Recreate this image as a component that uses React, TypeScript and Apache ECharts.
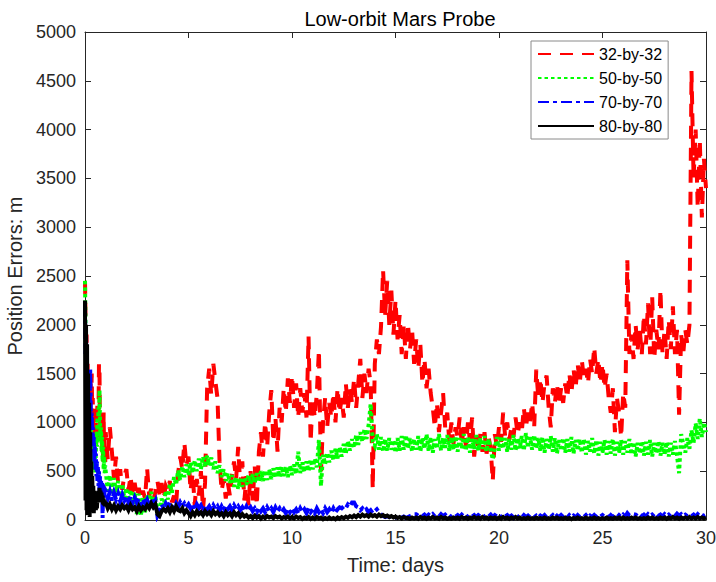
import React, { useEffect, useRef } from "react";
import * as echarts from "echarts";

const seriesNames = ["32-by-32", "50-by-50", "70-by-70", "80-by-80"];
const xTicks = [0, 5, 10, 15, 20, 25, 30];

// sample times: day 0..0.975 every 0.025, then day 1..30 every 0.1
const earlyTimes = Array.from({ length: 40 }, (_, i) => i * 0.025);
const mainTimes = Array.from({ length: 291 }, (_, j) => Math.round((1 + j * 0.1) * 10) / 10);
const times = [...earlyTimes, ...mainTimes];

// ---- 32-by-32 (red) ----
const red32Early = [
  2450, 2100, 1700, 1900, 1400, 1600, 1200, 1500, 1100, 1300,
  1000, 1400, 1200, 1500, 1050, 1250, 900, 1150, 850, 1100,
  800, 1000, 750, 950, 1200, 850, 1050, 1600, 1550, 900,
  1100, 800, 1000, 700, 900, 600, 1100, 650, 850, 550,
];
const red32Main = [
  900, 620, 950, 700, 420, 650, 380, 520, 310, 460,
  520, 300, 450, 260, 380, 240, 330, 210, 300, 220,
  530, 250, 320, 200, 290, 400, 260, 380, 220, 350,
  300, 400, 180, 250, 150, 480, 650, 520, 790, 560,
  650, 300, 480, 150, 420, 250, 500, 100, 380, 1350,
  1550, 1280, 1600, 1420, 1250, 600, 300, 420, 220, 380,
  250, 460, 600, 420, 750, 350, 600, 200, 450, 150,
  500, 200, 550, 150, 700, 900, 650, 1000, 750, 1100,
  1330, 800, 1050, 700, 1150, 1000, 1350, 1100, 1450, 1200,
  1480, 1150, 1400, 1050, 1350, 1100, 1300, 1050, 1880, 800,
  1250, 1050, 1300, 1740, 500, 1000, 1250, 950, 1200, 1050,
  1300, 1000, 1350, 1100, 1250, 1050, 1400, 1150, 1350, 1200,
  1450, 1150, 1400, 1650, 1250, 1500, 1300, 1550, 1400, 320,
  1600, 1850, 1700, 1980, 2560, 2100, 2450, 2000, 2350, 1900,
  2250, 1850, 2100, 1700, 2000, 1650, 2010, 1750, 1950, 1600,
  1850, 1550, 1800, 1400, 1650, 1350, 1550, 1300, 1150, 950,
  1200, 900, 1100, 1300, 950, 1100, 800, 1000, 780, 950,
  850, 1050, 780, 950, 750, 1000, 800, 1050, 650, 850,
  720, 880, 700, 900, 680, 850, 720, 400, 880, 750,
  950, 800, 1100, 850, 1000, 820, 950, 850, 1050, 880,
  1000, 900, 1150, 950, 1100, 1000, 1200, 950, 1540, 1250,
  1450, 1200, 1400, 1480, 1150, 950, 1350, 1200, 1400, 1180,
  1350, 1200, 1400, 1250, 1500, 1300, 1550, 1350, 1600, 1400,
  1640, 1450, 1550, 1400, 1650, 1500, 1770, 1500, 1650, 1400,
  1600, 1350, 1500, 1250, 1100, 1350, 900, 1250, 1100, 850,
  1300, 1150, 2660, 1700, 1900, 1650, 2000, 1750, 1950, 1700,
  2100, 1800, 2220, 1700, 2290, 1650, 1950, 1750, 2360, 1700,
  1950, 1650, 2050, 1750, 2190, 1700, 1950, 1080, 1900, 1700,
  1950, 1800, 2000, 4600, 3500, 4000, 3200, 3900, 3100, 3700, 3400,
];

// ---- 50-by-50 (green) ----
const green50Early = [
  2450, 2000, 1600, 1800, 1300, 1500, 1100, 1300, 950, 1100,
  800, 950, 700, 850, 600, 750, 550, 700, 500, 650,
  480, 700, 900, 750, 1050, 850, 1150, 950, 1330, 1000,
  800, 950, 700, 850, 600, 750, 520, 650, 480, 560,
];
const green50Main = [
  500, 300, 460, 260, 430, 280, 400, 240, 370, 220,
  330, 190, 310, 170, 290, 60, 270, 40, 240, 80,
  260, 170, 290, 150, 250, 60, 90, 220, 140, 300,
  210, 370, 280, 440, 360, 510, 410, 550, 440, 570,
  460, 590, 480, 610, 500, 630, 520, 650, 540, 660,
  560, 640, 520, 600, 480, 560, 440, 520, 400, 480,
  380, 460, 340, 440, 320, 420, 340, 440, 360, 460,
  370, 470, 380, 480, 390, 500, 400, 510, 410, 520,
  420, 530, 430, 540, 440, 550, 450, 540, 440, 560,
  460, 570, 470, 700, 480, 590, 490, 600, 500, 620,
  520, 630, 540, 820, 350, 670, 570, 690, 590, 710,
  610, 730, 630, 750, 650, 780, 680, 810, 710, 830,
  740, 870, 770, 900, 800, 930, 830, 970, 1190, 800,
  760, 880, 720, 850, 700, 830, 710, 840, 720, 820,
  690, 840, 710, 860, 720, 870, 730, 840, 700, 830,
  720, 860, 700, 840, 730, 880, 710, 850, 690, 830,
  730, 880, 710, 840, 740, 870, 710, 850, 720, 860,
  700, 840, 730, 880, 710, 850, 690, 830, 730, 870,
  710, 840, 730, 860, 700, 830, 720, 620, 740, 850,
  710, 860, 730, 840, 700, 830, 720, 870, 710, 840,
  730, 860, 710, 890, 740, 850, 720, 870, 730, 840,
  710, 850, 690, 830, 720, 860, 700, 840, 680, 820,
  710, 840, 690, 830, 700, 850, 680, 820, 710, 830,
  690, 830, 670, 810, 700, 840, 680, 820, 660, 800,
  690, 820, 670, 810, 680, 830, 660, 800, 690, 820,
  670, 810, 690, 830, 670, 800, 650, 790, 680, 810,
  660, 800, 670, 820, 650, 790, 680, 810, 660, 790,
  670, 800, 650, 790, 670, 810, 660, 480, 880, 780,
  690, 840, 730, 920, 790, 990, 830, 1040, 850, 1000, 900,
];

// ---- 70-by-70 (blue) ----
const blue70Early = [
  2200, 1700, 1900, 1300, 1600, 1100, 1400, 900, 1300, 1000,
  1550, 1200, 950, 1100, 800, 950, 700, 850, 600, 750,
  520, 680, 450, 600, 400, 550, 350, 500, 300, 450,
  280, 400, 260, 380, 20, 350, 240, 330, 230, 310,
];
const blue70Main = [
  300, 220, 290, 200, 280, 210, 270, 190, 260, 200,
  250, 180, 240, 170, 230, 180, 220, 160, 210, 170,
  210, 150, 220, 160, 200, 40, 80, 160, 120, 170,
  130, 180, 140, 120, 170, 130, 180, 140, 170, 130,
  160, 120, 170, 110, 160, 120, 150, 100, 150, 110,
  140, 100, 150, 110, 140, 90, 140, 100, 150, 110,
  140, 100, 150, 110, 140, 100, 130, 90, 140, 100,
  130, 90, 120, 80, 130, 90, 120, 80, 130, 90,
  120, 80, 130, 90, 120, 80, 110, 70, 120, 80,
  120, 80, 110, 70, 120, 80, 110, 70, 120, 80,
  110, 70, 120, 80, 110, 70, 120, 80, 110, 70,
  120, 80, 110, 130, 120, 140, 120, 160, 140, 180,
  180, 140, 130, 100, 120, 90, 110, 80, 100, 70,
  90, 110, 80, 60, 40, 30, 40, 30, 40, 30,
  30, 20, 30, 25, 35, 20, 30, 40, 50, 60,
  60, 45, 60, 40, 55, 35, 55, 40, 60, 35,
  55, 35, 60, 40, 55, 35, 50, 30, 55, 35,
  50, 30, 55, 35, 50, 30, 55, 35, 50, 30,
  50, 35, 55, 30, 50, 35, 55, 30, 50, 35,
  50, 30, 55, 35, 50, 30, 45, 25, 50, 30,
  45, 25, 50, 30, 45, 25, 50, 30, 45, 25,
  45, 30, 50, 25, 45, 30, 50, 25, 45, 30,
  50, 30, 45, 25, 50, 30, 45, 25, 50, 30,
  45, 30, 50, 25, 45, 30, 50, 30, 55, 35,
  50, 30, 45, 25, 50, 30, 45, 25, 50, 30,
  55, 35, 70, 45, 50, 60, 55, 40, 60, 40,
  55, 35, 60, 40, 55, 35, 60, 40, 55, 35,
  60, 40, 55, 35, 60, 40, 65, 45, 60, 40,
  55, 40, 60, 40, 55, 35, 60, 40, 55, 40, 50,
];

// ---- 80-by-80 (black) ----
const black80Early = [
  2250, 200, 2000, 100, 1800, 50, 1500, 80, 1200, 30,
  900, 100, 600, 80, 450, 120, 350, 70, 300, 150,
  250, 100, 280, 120, 220, 180, 300, 200, 330, 250,
  300, 200, 280, 180, 250, 160, 220, 150, 200, 140,
];
const black80Main = [
  180, 120, 160, 110, 150, 100, 140, 110, 150, 120,
  140, 100, 150, 110, 130, 90, 140, 100, 130, 110,
  150, 120, 170, 130, 160, 60, 40, 90, 110, 90,
  120, 80, 130, 90, 140, 100, 90, 120, 70, 100,
  70, 40, 80, 50, 90, 60, 80, 50, 90, 60,
  80, 50, 90, 60, 80, 50, 70, 40, 80, 50,
  70, 40, 80, 50, 70, 35, 60, 35, 50, 25,
  40, 20, 45, 25, 40, 15, 35, 20, 40, 25,
  35, 20, 40, 25, 35, 15, 30, 20, 35, 15,
  30, 15, 35, 20, 30, 10, 25, 15, 30, 10,
  25, 10, 30, 15, 25, 8, 20, 10, 25, 10,
  20, 8, 25, 12, 30, 18, 35, 22, 40, 28,
  45, 30, 50, 35, 55, 40, 50, 35, 55, 40,
  50, 35, 55, 40, 50, 35, 45, 30, 40, 25,
  35, 20, 30, 15, 30, 20, 20, 12, 25, 15,
  25, 12, 30, 15, 25, 12, 25, 15, 30, 15,
  25, 12, 30, 15, 25, 12, 20, 12, 25, 15,
  25, 12, 30, 15, 25, 12, 25, 15, 30, 15,
  25, 12, 30, 15, 25, 12, 25, 15, 25, 12,
  25, 12, 30, 15, 25, 12, 25, 15, 30, 15,
  25, 12, 20, 12, 25, 12, 20, 12, 25, 15,
  20, 12, 25, 12, 20, 12, 25, 15, 25, 12,
  20, 12, 25, 12, 20, 8, 20, 12, 25, 12,
  20, 12, 25, 12, 20, 12, 25, 12, 20, 12,
  20, 12, 25, 12, 20, 12, 25, 15, 25, 12,
  25, 12, 20, 12, 25, 15, 25, 12, 20, 12,
  20, 12, 25, 15, 25, 12, 20, 12, 25, 15,
  25, 12, 25, 15, 30, 15, 25, 12, 25, 15,
  25, 15, 30, 15, 25, 15, 30, 15, 25, 15, 25,
];

const seriesValues = [
  [...red32Early, ...red32Main],
  [...green50Early, ...green50Main],
  [...blue70Early, ...blue70Main],
  [...black80Early, ...black80Main],
];
const seriesColors = ["#ff0000", "#00ff00", "#0000ff", "#000000"];
const seriesDashes: any[] = [[13, 9], [3.5, 3], [11, 4, 4, 4], "solid"];

const FONT = "'Liberation Sans', Arial, Helvetica, sans-serif";
const AXIS_COLOR = "#262626";

export default function App() {
  const ref = useRef<HTMLDivElement>(null);
  useEffect(() => {
    document.body.style.margin = "0";
    const chart = echarts.init(ref.current!, null, { renderer: "svg" });
    const series = seriesNames.map((name, k) => ({
      name,
      type: "line",
      xAxisIndex: 0,
      yAxisIndex: 0,
      symbol: "none",
      showSymbol: false,
      data: times.map((t, i) => [t, seriesValues[k][i]]),
      lineStyle: { color: seriesColors[k], width: 4, type: seriesDashes[k], cap: "butt", join: "miter" },
      itemStyle: { color: seriesColors[k] },
      emphasis: { disabled: true },
      silent: true,
    }));
    const baseAxis = {
      axisLine: { show: true, onZero: false, lineStyle: { color: AXIS_COLOR, width: 1 } },
      axisTick: { show: true, inside: true, length: 6, lineStyle: { color: AXIS_COLOR } },
      splitLine: { show: false },
    };
    chart.setOption({
      animation: false,
      backgroundColor: "#ffffff",
      title: {
        text: "Low-orbit Mars Probe",
        left: 395,
        top: 4,
        textAlign: "center",
        textStyle: { fontFamily: FONT, fontSize: 20, fontWeight: "normal", color: "#000" },
      },
      grid: { left: 85, top: 32, width: 621, height: 488, outerBoundsMode: "none", containLabel: false },
      legend: {
        data: seriesNames,
        orient: "vertical",
        left: 531,
        top: 41,
        padding: [5, 6, 5, 6],
        itemWidth: 56,
        itemHeight: 16,
        itemGap: 8,
        borderColor: "#8a8a8a",
        borderWidth: 1,
        backgroundColor: "#ffffff",
        itemStyle: { opacity: 0, borderWidth: 0 },
        textStyle: { fontFamily: FONT, fontSize: 16, color: "#000", lineHeight: 16 },
      },
      xAxis: [
        {
          ...baseAxis,
          type: "value",
          min: xTicks[0],
          max: xTicks[xTicks.length - 1],
          interval: 5,
          position: "bottom",
          name: "Time: days",
          nameLocation: "middle",
          nameGap: 35,
          nameTextStyle: { fontFamily: FONT, fontSize: 20, color: AXIS_COLOR },
          axisLabel: { fontFamily: FONT, fontSize: 18, color: AXIS_COLOR, margin: 9, formatter: (v: number) => String(v) },
        },
        {
          ...baseAxis,
          type: "value",
          min: xTicks[0],
          max: xTicks[xTicks.length - 1],
          interval: 5,
          position: "top",
          axisLabel: { show: false },
        },
      ],
      yAxis: [
        {
          ...baseAxis,
          type: "value",
          min: 0,
          max: 5000,
          interval: 500,
          position: "left",
          name: "Position Errors: m",
          nameLocation: "middle",
          nameGap: 57,
          nameTextStyle: { fontFamily: FONT, fontSize: 20, color: AXIS_COLOR },
          axisLabel: { fontFamily: FONT, fontSize: 18, color: AXIS_COLOR, margin: 9, formatter: (v: number) => String(v) },
        },
        {
          ...baseAxis,
          type: "value",
          min: 0,
          max: 5000,
          interval: 500,
          position: "right",
          axisLabel: { show: false },
        },
      ],
      series,
    });
    return () => chart.dispose();
  }, []);
  return <div ref={ref} style={{ width: 716, height: 582 }} />;
}
